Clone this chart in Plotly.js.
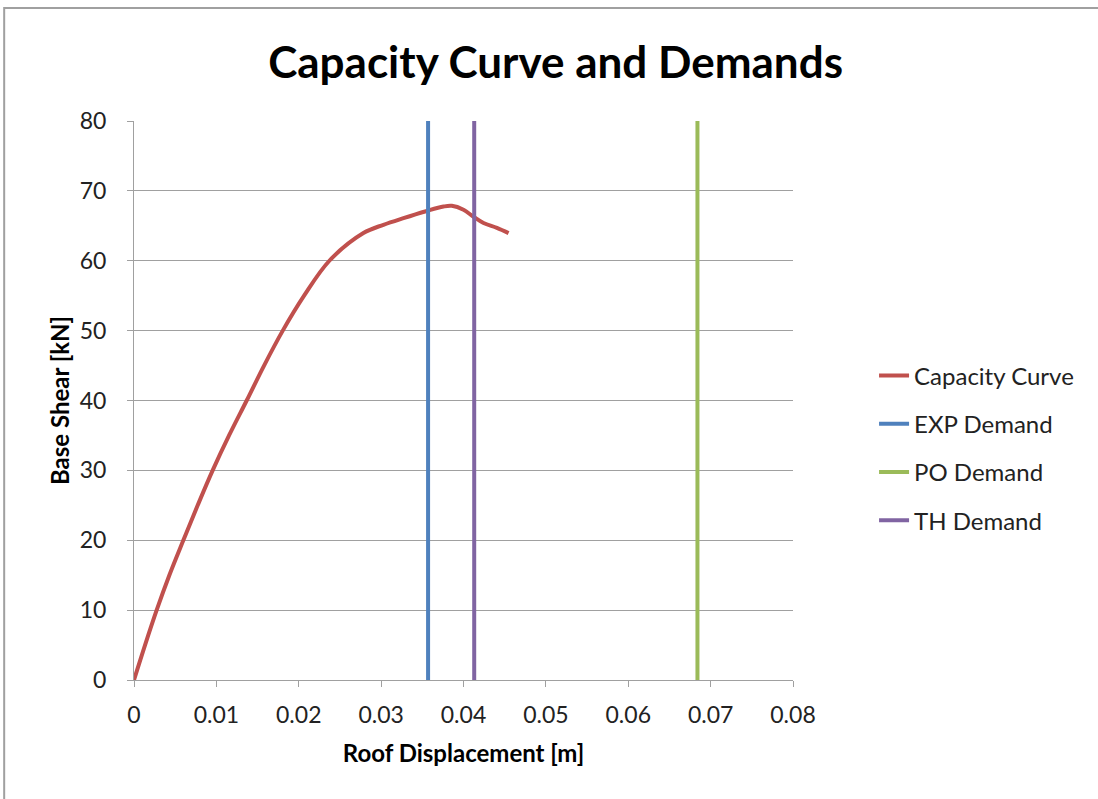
<!DOCTYPE html>
<html><head><meta charset="utf-8">
<script src="https://cdn.plot.ly/plotly-3.0.1.min.js"></script>
<style>html,body{margin:0;padding:0;background:#fff}</style>
</head><body>
<div id="chart" style="width:1098px;height:799px"></div>
<script>
const capX = [0, 0.00134, 0.00275, 0.00429, 0.00599, 0.00773, 0.00955, 0.01154, 0.01368, 0.01579, 0.01806, 0.02065, 0.02372, 0.02785, 0.03028, 0.03271, 0.03534, 0.03757, 0.03858, 0.0400, 0.04121, 0.04243, 0.04405, 0.04547];
const capY = [0, 5, 10, 15, 20, 25, 30, 35, 40, 45, 50, 55, 60, 63.96, 65.15, 66.1, 67.05, 67.76, 67.86, 67.3, 66.3, 65.4, 64.7, 63.96];
const expDemand = 0.0357;
const poDemand = 0.0684;
const thDemand = 0.0413;
const demandY = [0, 80];
const seriesNames = ["Capacity Curve", "EXP Demand", "PO Demand", "TH Demand"];
const colors = ["#C0504D", "#4F81BD", "#9BBB59", "#8064A2"];

const font = "Lato, 'Open Sans', sans-serif";
const gray = "#A0A0A0";
const traces = [
  {x: capX, y: capY, mode: "lines", name: seriesNames[0], line: {color: colors[0], width: 4, shape: "spline", smoothing: 1}, legendgroup: "a"},
  {x: [expDemand, expDemand], y: demandY, mode: "lines", name: seriesNames[1], line: {color: colors[1], width: 4}, legendgroup: "b"},
  {x: [poDemand, poDemand], y: demandY, mode: "lines", name: seriesNames[2], line: {color: colors[2], width: 4}, legendgroup: "c"},
  {x: [thDemand, thDemand], y: demandY, mode: "lines", name: seriesNames[3], line: {color: colors[3], width: 4}, legendgroup: "d"}
];
const layout = {
  width: 1098, height: 799,
  margin: {l: 134, r: 305, t: 121, b: 119},
  paper_bgcolor: "#fff", plot_bgcolor: "#fff",
  font: {family: font, color: "#000"},
  title: {text: "<b>Capacity Curve and Demands</b>", font: {size: 44, family: font, color: "#000"}, x: 0.506, xanchor: "center", y: 0.922, yanchor: "middle"},
  xaxis: {
    range: [0, 0.08], dtick: 0.01, tick0: 0, showgrid: false, zeroline: false,
    showline: true, linecolor: gray, linewidth: 1,
    ticks: "outside", ticklen: 6, tickcolor: gray, ticklabelstandoff: 8,
    tickfont: {size: 23, family: font, color: "#222"},
    title: {text: "<b>Roof Displacement [m]</b>", font: {size: 24, family: font}, standoff: 18}
  },
  yaxis: {
    range: [0, 80], dtick: 10, showgrid: true, gridcolor: gray, gridwidth: 1, zeroline: false,
    showline: true, linecolor: gray, linewidth: 1,
    ticks: "outside", ticklen: 6, tickcolor: gray, ticklabelstandoff: 16,
    tickfont: {size: 23, family: font, color: "#222"},
    title: {text: "<b>Base Shear [kN]</b>", font: {size: 24, family: font}, standoff: 3}
  },
  legend: {x: 1.123, y: 0.415, xanchor: "left", yanchor: "middle", font: {size: 24, family: font, color: "#222"}, tracegroupgap: 14, traceorder: "grouped"},
  shapes: [{type: "rect", xref: "paper", yref: "paper", x0: -0.197, x1: 1.6, y0: -0.5, y1: 1.202, line: {color: gray, width: 2}, fillcolor: "rgba(0,0,0,0)", layer: "below"}]
};
Plotly.newPlot("chart", traces, layout, {displayModeBar: false, staticPlot: true});
</script>
</body></html>
